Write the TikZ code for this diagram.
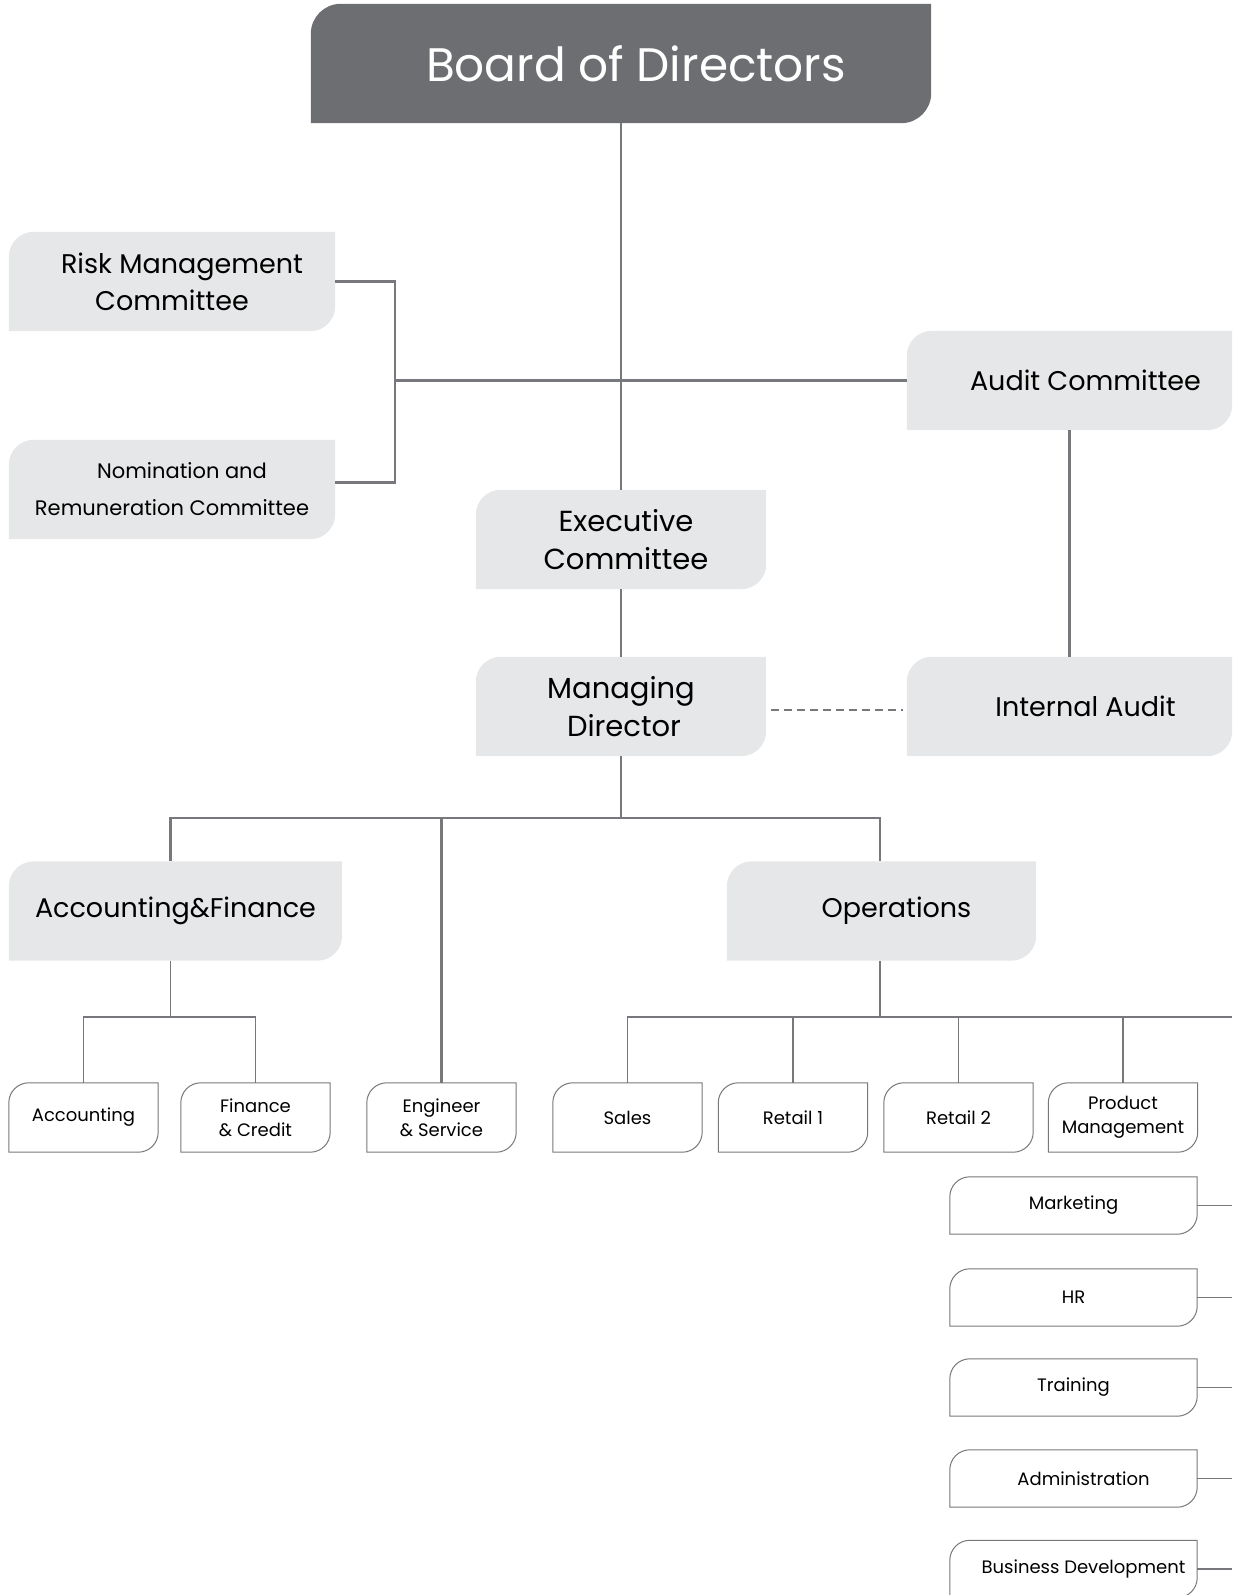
\documentclass[tikz,border=0pt]{standalone}
\usepackage{fontspec}
\setmainfont{Poppins}
\usetikzlibrary{backgrounds}
\definecolor{dark}{HTML}{6D6E71}
\definecolor{light}{HTML}{E6E7E8}
\definecolor{ln}{HTML}{77787B}
\tikzset{
  area/.style={inner sep=0pt, align=center, text=black},
  bigbox/.style={area, font=\fontsize{27}{37}\selectfont, minimum height=99pt},
  smallbox/.style={area, font=\fontsize{18}{23.5}\selectfont, minimum width=149pt, minimum height=69pt},
  sidebox/.style={area, font=\fontsize{18}{23.5}\selectfont, minimum width=247pt, minimum height=57pt},
  link/.style={draw=ln, line width=2.4pt},
  thinlink/.style={draw=ln, line width=1.6pt},
  lightfill/.style={fill=light},
  whitebox/.style={fill=white, draw=ln, line width=1pt},
}
\newcommand\roundbox[3]{\path[#3] (#1.south west) -- ([yshift=-#2]#1.north west) arc[start angle=180,end angle=90,radius=#2] -- (#1.north east) -- ([yshift=#2]#1.south east) arc[start angle=0,end angle=-90,radius=#2] -- cycle;}
\begin{document}
\begin{tikzpicture}[x=1pt,y=1pt]
\useasboundingbox (0,0) rectangle (1232,-1595);
% top
\node[area, text=white, font=\fontsize{47}{55}\selectfont, minimum width=620pt, minimum height=119pt] (board) at (621,-63.5) {\hspace*{30pt}Board of Directors};
\node[bigbox, minimum width=326pt] (risk) at (172,-281.5) {\hspace*{20pt}Risk Management\\Committee};
\node[bigbox, minimum width=326pt, font=\fontsize{21}{37}\selectfont] (nom) at (172,-489.5) {\hspace*{20pt}Nomination and\\Remuneration Committee};
\node[bigbox, minimum width=325pt] (audit) at (1069.5,-380.5) {\hspace*{32pt}Audit Committee};
\node[bigbox, minimum width=290pt, font=\fontsize{29}{38}\selectfont] (exec) at (621,-539.5) {\hspace*{10pt}Executive\\\hspace*{10pt}Committee};
\node[bigbox, minimum width=290pt, font=\fontsize{29}{38}\selectfont] (md) at (621,-706.5) {Managing\\\hspace*{6pt}Director};
\node[bigbox, minimum width=325pt] (ia) at (1069.5,-706.5) {\hspace*{32pt}Internal Audit};
\node[bigbox, minimum width=333pt] (acc) at (175.5,-911) {Accounting\&Finance};
\node[bigbox, minimum width=309pt] (ops) at (881.5,-911) {\hspace*{30pt}Operations};
% small boxes
\node[smallbox] (accounting) at (83.5,-1117.5) {Accounting};
\node[smallbox] (finance) at (255.5,-1117.5) {Finance\\\& Credit};
\node[smallbox] (eng) at (441.5,-1117.5) {Engineer\\\& Service};
\node[smallbox] (sales) at (627.5,-1117.5) {Sales};
\node[smallbox] (retaila) at (793,-1117.5) {Retail 1};
\node[smallbox] (retailb) at (958.5,-1117.5) {Retail 2};
\node[smallbox] (pm) at (1123,-1117.5) {Product\\Management};
\node[sidebox] (mkt) at (1073.5,-1205.5) {Marketing};
\node[sidebox] (hr) at (1073.5,-1297.5) {HR};
\node[sidebox] (train) at (1073.5,-1387.5) {Training};
\node[sidebox] (admin) at (1073.5,-1478.5) {\hspace*{20pt}Administration};
\node[sidebox] (bd) at (1073.5,-1569) {\hspace*{20pt}Business Development};
% shapes
\begin{scope}[on background layer]
\roundbox{board}{30pt}{fill=dark}
\foreach \n in {risk,nom,audit,exec,md,ia,acc,ops} {\roundbox{\n}{25pt}{lightfill}}
\foreach \n in {accounting,finance,eng,sales,retaila,retailb,pm,mkt,hr,train,admin,bd} {\roundbox{\n}{20pt}{whitebox}}
\end{scope}
% connectors
\coordinate (bx) at (395,-380.5);
\draw[link] (board.south) -- (exec.north);
\draw[link] (risk.east) -- (risk.east -| bx) -- ([yshift=7pt]nom.east -| bx) -- ([yshift=7pt]nom.east);
\draw[link] (bx) -- (audit.west);
\draw[link] (exec.south) -- (md.north);
\draw[link] (audit.south) -- (ia.north);
\draw[ln, line width=2pt, dash pattern=on 8pt off 5pt] ([xshift=5pt,yshift=-3pt]md.east) -- ([xshift=-4pt,yshift=-3pt]ia.west);
\coordinate (mdbus) at (621,-818);
\draw[link] (md.south) -- (mdbus);
\draw[link] ([xshift=-5pt]acc.north) -- ([xshift=-5pt]acc.north |- mdbus) -- ([xshift=-1.5pt]ops.north |- mdbus) -- ([xshift=-1.5pt]ops.north);
\draw[link] (eng.north) -- (eng.north |- mdbus);
\coordinate (abus) at (170.5,-1017);
\coordinate (oend) at (1232,-1017);
\draw[thinlink] ([xshift=-5pt]acc.south) -- (abus);
\draw[thinlink] (accounting.north) -- (accounting.north |- abus) -- (finance.north |- abus) -- (finance.north);
\draw[thinlink] ([xshift=-1.5pt]ops.south) -- ([xshift=-1.5pt]ops.south |- abus);
\draw[thinlink] (sales.north) -- (sales.north |- abus) -- (oend);
\foreach \n in {retaila,retailb,pm} {\draw[thinlink] (\n.north) -- (\n.north |- abus);}
\foreach \n in {mkt,hr,train,admin,bd} {\draw[thinlink] (\n.east) -- (\n.east -| oend);}
\end{tikzpicture}
\end{document}
